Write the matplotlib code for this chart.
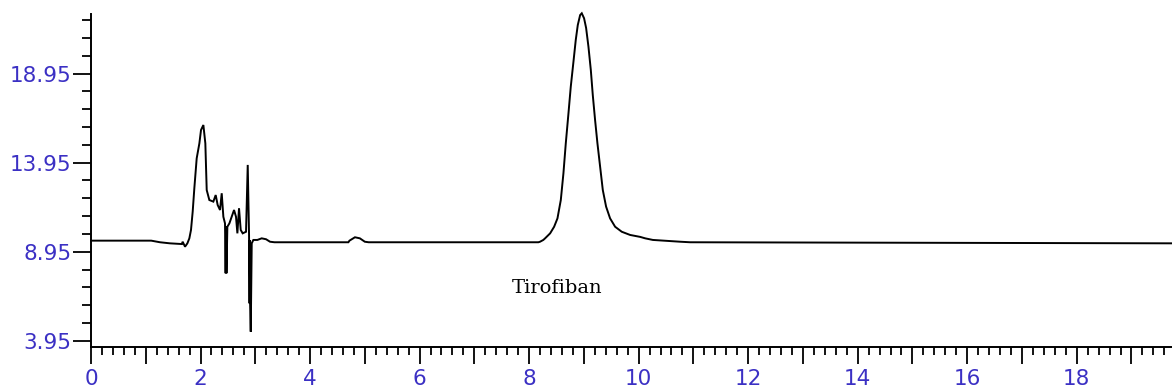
import matplotlib
matplotlib.use("Agg")
import matplotlib.pyplot as plt
from matplotlib.ticker import FixedLocator, MultipleLocator, FuncFormatter
import numpy as np

# ---- data ----
time_min = [
    0.00, 1.10, 1.26, 1.44, 1.66, 1.674, 1.717, 1.76, 1.796, 1.826, 1.857, 1.887,
    1.930, 1.979, 2.009, 2.052, 2.088, 2.113, 2.161, 2.234, 2.277, 2.313, 2.356,
    2.387, 2.417, 2.447, 2.458, 2.466, 2.474, 2.490, 2.527, 2.569, 2.612, 2.648,
    2.673, 2.703, 2.734, 2.770, 2.831, 2.862, 2.886, 2.895, 2.900, 2.905, 2.917,
    2.935, 2.965, 3.038, 3.117, 3.196, 3.269, 3.35, 4.70, 4.72, 4.82, 4.91, 5.00,
    5.07, 8.17, 8.20, 8.26, 8.292, 8.384, 8.457, 8.518, 8.579, 8.627, 8.670,
    8.719, 8.761, 8.810, 8.852, 8.889, 8.932, 8.962, 9.004, 9.041, 9.084, 9.127,
    9.163, 9.205, 9.248, 9.297, 9.346, 9.406, 9.479, 9.571, 9.692, 9.845, 10.03,
    10.12, 10.26, 10.76, 10.94, 13.77, 19.74,
]
signal = [
    9.57, 9.57, 9.48, 9.42, 9.38, 9.51, 9.23, 9.42, 9.70, 10.17, 11.20, 12.51,
    14.19, 15.03, 15.78, 16.06, 15.03, 12.41, 11.85, 11.76, 12.13, 11.57, 11.29,
    12.23, 10.91, 10.54, 7.74, 10.35, 7.74, 10.35, 10.54, 10.91, 11.29, 10.91,
    9.98, 11.39, 10.17, 9.98, 10.07, 13.82, 9.89, 6.05, 9.60, 6.05, 4.46,
    9.42, 9.61, 9.61, 9.70, 9.65, 9.51, 9.48, 9.48, 9.57, 9.76, 9.70, 9.51,
    9.48, 9.48, 9.51, 9.61, 9.70, 9.98, 10.35, 10.82, 11.85, 13.35, 15.03,
    16.72, 18.21, 19.61, 20.83, 21.67, 22.23, 22.33, 22.05, 21.51, 20.45, 19.15,
    17.74, 16.34, 15.03, 13.72, 12.41, 11.48, 10.82, 10.35, 10.07, 9.89, 9.78,
    9.70, 9.61, 9.51, 9.48, 9.46, 9.42,
]

x_tick_labels = ["0", "2", "4", "6", "8", "10", "12", "14", "16", "18"]
y_tick_values = [3.95, 8.95, 13.95, 18.95]
y_tick_labels = ["3.95", "8.95", "13.95", "18.95"]
peak_label = "Tirofiban"
peak_label_pos = (8.51, 6.91)

# ---- figure ----
W, H, DPI = 1172, 391, 100
fig = plt.figure(figsize=(W / DPI, H / DPI), dpi=DPI)
ax = fig.add_axes([91 / W, (H - 347.3) / H, (W - 91) / W, (347.3 - 14) / H])

ax.plot(time_min, signal, color="black", lw=1.4, clip_on=False,
        solid_joinstyle="miter")

ax.set_xlim(0, 19.74)
ax.set_ylim(3.585, 22.29)

for s in ("top", "right"):
    ax.spines[s].set_visible(False)
for s in ("left", "bottom"):
    ax.spines[s].set_linewidth(1.4)

label_color = "#3b30c4"
px = 0.72  # points per pixel

# x ticks
ax.xaxis.set_major_locator(MultipleLocator(1))
ax.xaxis.set_minor_locator(MultipleLocator(0.2))
def xfmt(v, pos):
    i = int(round(v))
    return x_tick_labels[i // 2] if (i % 2 == 0 and i // 2 < len(x_tick_labels)) else ""
ax.xaxis.set_major_formatter(FuncFormatter(xfmt))
ax.tick_params(axis="x", which="major", direction="out", length=17 * px,
               width=1.3, pad=3.5, labelsize=15.5, labelcolor=label_color)
ax.tick_params(axis="x", which="minor", direction="out", length=8 * px, width=1.3)

# y ticks
ax.yaxis.set_major_locator(FixedLocator(y_tick_values))
ax.set_yticklabels(y_tick_labels)
ax.yaxis.set_minor_locator(FixedLocator(np.arange(3.95, 22.3, 1.0)))
ax.tick_params(axis="y", which="major", direction="out", length=18 * px,
               width=1.3, pad=1, labelsize=15.5, labelcolor=label_color)
ax.tick_params(axis="y", which="minor", direction="out", length=9 * px, width=1.3)

for lab in ax.get_xticklabels() + ax.get_yticklabels():
    lab.set_family("DejaVu Sans")

ax.text(peak_label_pos[0], peak_label_pos[1], peak_label, ha="center", va="center",
        family="DejaVu Serif", fontsize=14, color="black")

fig.savefig("out.png", dpi=DPI)
